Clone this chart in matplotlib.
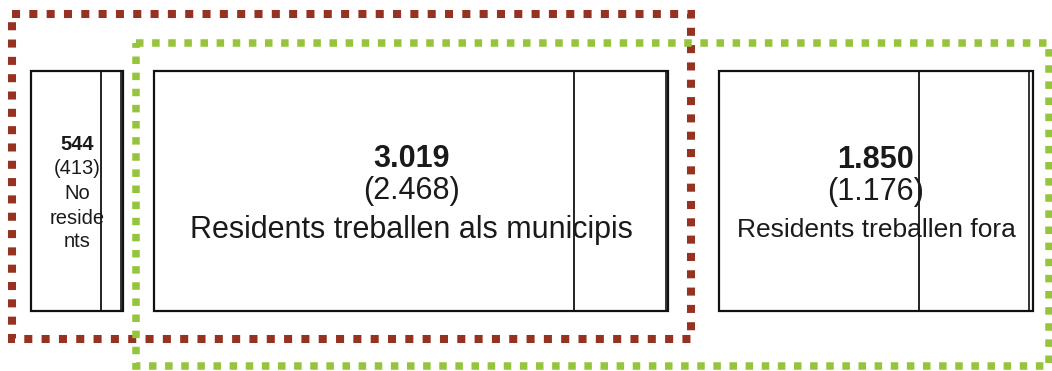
import matplotlib.pyplot as plt
from matplotlib.patches import Rectangle

plt.rcParams['font.family'] = ['Liberation Sans', 'DejaVu Sans']

# data
totals = [544, 3019, 1850]
residents = [413, 2468, 1176]
slivers = [17, 12, 23]   # thin strip at the right edge of each box (estimated)
labels = [["No", "reside", "nts"],
          ["Residents treballen als municipis"],
          ["Residents treballen fora"]]

# layout (pixels)
W, H = 1052, 371
scale = 0.170          # px per person
x_start = 31
gaps = [31, 51]
box_top, box_bot = 71, 311
num_size = [14.5, 22, 22]
lab_size = [14.5, 22, 19]
baselines = [[150, 174, 199, 224, 247],
             [167, 199, 238],
             [168, 200, 237]]

RED = '#963222'
GREEN = '#95c43d'


def fmt(v):
    return f"{v:,}".replace(",", ".")


def main():
    fig = plt.figure(figsize=(W / 100, H / 100), dpi=100)
    ax = fig.add_axes([0, 0, 1, 1])
    ax.set_xlim(0, W)
    ax.set_ylim(H, 0)
    ax.axis('off')

    x = x_start
    for i, tot in enumerate(totals):
        w = tot * scale
        h = box_bot - box_top
        ax.add_patch(Rectangle((x, box_top), w, h, fill=False, ec='#111111', lw=1.6, zorder=3))
        # split line: residents share
        xr = x + residents[i] * scale
        ax.plot([xr, xr], [box_top, box_bot], color='#111111', lw=1.3, zorder=3)
        xsl = x + w - slivers[i] * scale
        ax.plot([xsl, xsl], [box_top, box_bot], color='#111111', lw=1.2, zorder=3)

        cx = x + w / 2
        bl = baselines[i]
        ax.text(cx, bl[0], fmt(tot), fontsize=num_size[i], fontweight='bold',
                ha='center', va='baseline', color='#1a1a1a', zorder=4)
        ax.text(cx, bl[1], f"({fmt(residents[i])})", fontsize=num_size[i],
                ha='center', va='baseline', color='#1a1a1a', zorder=4)
        for j, line in enumerate(labels[i]):
            ax.text(cx, bl[2 + j], line, fontsize=lab_size[i],
                    ha='center', va='baseline', color='#1a1a1a', zorder=4)
        if i < len(gaps):
            x = x + w + gaps[i]

    # dashed groupings
    ax.add_patch(Rectangle((12, 14), 691 - 12, 339 - 14, fill=False, ec=RED, lw=5.8,
                           ls=(0, (1.0, 1.15)), zorder=2))
    ax.add_patch(Rectangle((136, 43), 1049 - 136, 366 - 43, fill=False, ec=GREEN, lw=5.4,
                           ls=(0, (1.0, 1.15)), zorder=2))

    fig.savefig('out.png', dpi=100)


if __name__ == "__main__":
    main()
